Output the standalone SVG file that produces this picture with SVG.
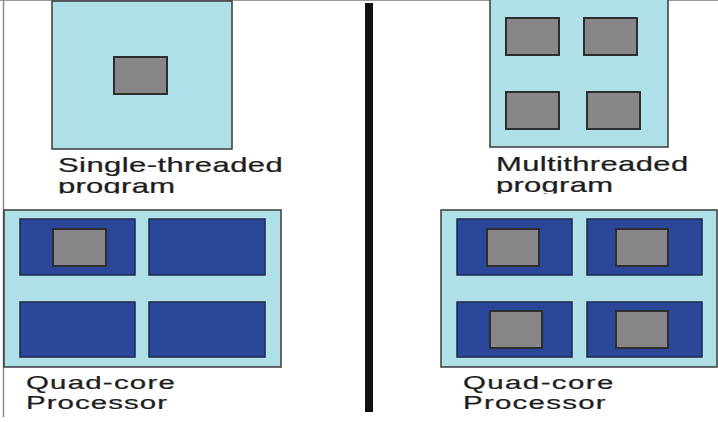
<svg xmlns="http://www.w3.org/2000/svg" width="718" height="422" viewBox="0 0 718 422">
<style>
.prog{fill:#afe0e8;stroke:#3a3a3a;stroke-width:1.5}
.core{fill:#2a4799;stroke:#1e2a4a;stroke-width:1.5}
.thr{fill:#888689;stroke:#2e2e2e;stroke-width:2}
.lbl{font-family:"Liberation Sans",Arial,sans-serif;font-size:20px;fill:#1e1e1e;stroke:#1e1e1e;stroke-width:0.25}
.lbl2{font-family:"Liberation Sans",Arial,sans-serif;font-size:19px;fill:#1e1e1e;stroke:#1e1e1e;stroke-width:0.25}
</style>
<defs>
<clipPath id="clipTop"><rect x="0" y="0" width="718" height="193.5"/></clipPath>
</defs>
<rect x="0" y="0" width="718" height="422" fill="#ffffff"/>
<line x1="0" y1="0.5" x2="718" y2="0.5" stroke="#9a9a9a" stroke-width="1"/>
<line x1="3.5" y1="0" x2="3.5" y2="417" stroke="#8a8a8a" stroke-width="1.5"/>

<g id="single-program">
<rect class="prog" x="52" y="1" width="180" height="148"/>
<rect class="thr" x="114" y="57" width="53" height="37"/>
<text class="lbl" transform="translate(58,172) scale(1.55,1)" textLength="145" lengthAdjust="spacing">Single-threaded</text>
<g clip-path="url(#clipTop)">
<text class="lbl" transform="translate(58,193) scale(1.55,1)" textLength="75.5" lengthAdjust="spacing">program</text>
</g>
</g>

<g id="multi-program">
<rect class="prog" x="490" y="-1" width="178" height="148"/>
<rect class="thr" x="506" y="18" width="53" height="37"/>
<rect class="thr" x="584" y="18" width="53" height="37"/>
<rect class="thr" x="506" y="92" width="53" height="37"/>
<rect class="thr" x="587" y="92" width="53" height="37"/>
<text class="lbl" transform="translate(496,171) scale(1.55,1)" textLength="124" lengthAdjust="spacing">Multithreaded</text>
<g clip-path="url(#clipTop)">
<text class="lbl" transform="translate(496,192) scale(1.55,1)" textLength="75.5" lengthAdjust="spacing">program</text>
</g>
</g>

<g id="divider">
<rect x="365" y="3" width="8" height="409" fill="#111"/>
</g>

<g id="quad-core-left">
<rect class="prog" x="4" y="210" width="277" height="157"/>
<rect class="core" x="20" y="219" width="115" height="56"/>
<rect class="core" x="149" y="219" width="116" height="56"/>
<rect class="core" x="20" y="302" width="115" height="55"/>
<rect class="core" x="149" y="302" width="116" height="55"/>
<rect class="thr" x="53" y="229" width="53" height="37"/>
<text class="lbl2" transform="translate(26,389) scale(1.55,1)" textLength="96" lengthAdjust="spacing">Quad-core</text>
<text class="lbl2" transform="translate(26,409) scale(1.55,1)" textLength="91" lengthAdjust="spacing">Processor</text>
</g>

<g id="quad-core-right">
<rect class="prog" x="441" y="210" width="276" height="157"/>
<rect class="core" x="457" y="219" width="115" height="56"/>
<rect class="core" x="587" y="219" width="115" height="56"/>
<rect class="core" x="457" y="302" width="115" height="55"/>
<rect class="core" x="587" y="302" width="115" height="55"/>
<rect class="thr" x="487" y="229" width="52" height="37"/>
<rect class="thr" x="616" y="229" width="52" height="37"/>
<rect class="thr" x="490" y="311" width="52" height="37"/>
<rect class="thr" x="616" y="311" width="52" height="37"/>
<text class="lbl2" transform="translate(463,389) scale(1.55,1)" textLength="97" lengthAdjust="spacing">Quad-core</text>
<text class="lbl2" transform="translate(463,409) scale(1.55,1)" textLength="92" lengthAdjust="spacing">Processor</text>
</g>
</svg>
